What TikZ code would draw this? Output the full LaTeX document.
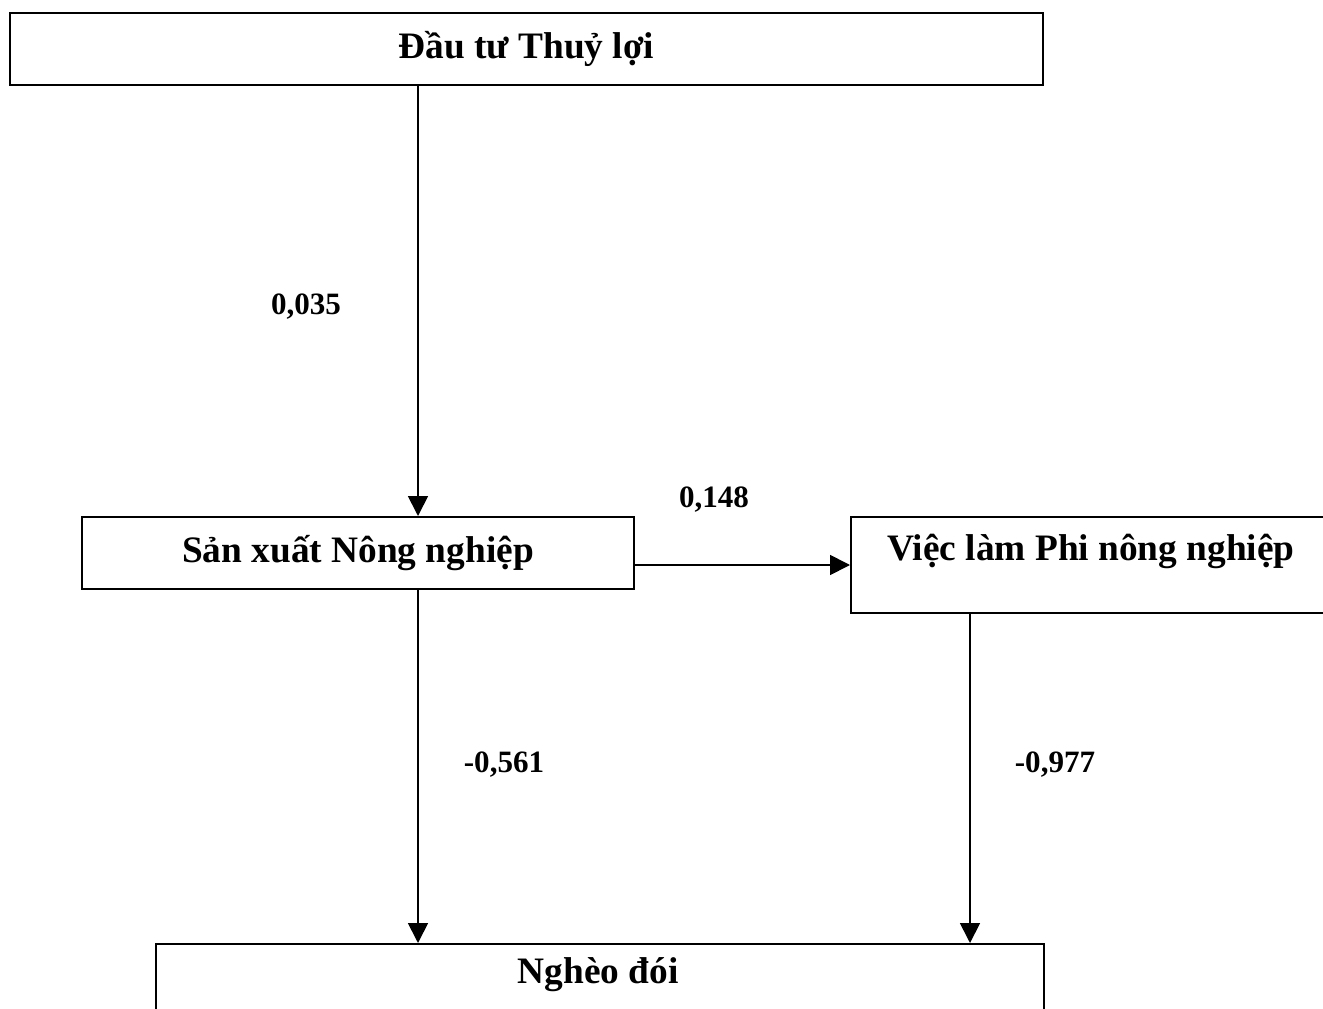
\documentclass[tikz,border=0pt]{standalone}
\usepackage{fontspec}
\setmainfont{Liberation Serif}
\usetikzlibrary{arrows.meta}
\begin{document}
\begin{tikzpicture}[x=0.75pt,y=-0.75pt,
  box/.style={draw, line width=1.5pt, inner sep=0pt, font=\fontsize{28}{32}\selectfont\bfseries},
  txt/.style={font=\fontsize{28}{32}\selectfont\bfseries, inner sep=0pt},
  lbl/.style={font=\fontsize{23.3}{27}\selectfont\bfseries, inner sep=0pt},
  arr/.style={line width=1.3pt, -{Triangle[width=15pt,length=15pt]}}]
\useasboundingbox (0,0) rectangle (1323,1009);
\node[box, minimum width=774.75pt, minimum height=54pt] (top) at (526.5,49) {Đầu tư Thuỷ lợi};
\node[box, minimum width=414pt, minimum height=54pt] (sx) at (358,553) {Sản xuất Nông nghiệp};
\node[box, anchor=north west, minimum width=363.75pt, minimum height=72pt] (vl) at (850,516) {};
\node[txt] (vlt) at (1091,551) {Việc làm Phi nông nghiệp};
\node[box, anchor=north west, minimum width=666pt, minimum height=75pt] (ng) at (155,943) {};
\node[txt] (ngt) at (598,975) {Nghèo đói};
\coordinate (ax) at (418,0);
\coordinate (bx) at (970,0);
\draw[arr] (top.south -| ax) -- (sx.north -| ax);
\draw[arr] ([yshift=-9pt]sx.east) -- ([yshift=-9pt]sx.east -| vl.west);
\draw[arr] (sx.south -| ax) -- (ng.north -| ax);
\draw[arr] (vl.south -| bx) -- (ng.north -| bx);
\node[lbl] (l1) at (306,307) {0,035};
\node[lbl] (l2) at (714,500) {0,148};
\node[lbl] (l3) at (504,765) {-0,561};
\node[lbl] (l4) at (1055,765) {-0,977};
\end{tikzpicture}
\end{document}
